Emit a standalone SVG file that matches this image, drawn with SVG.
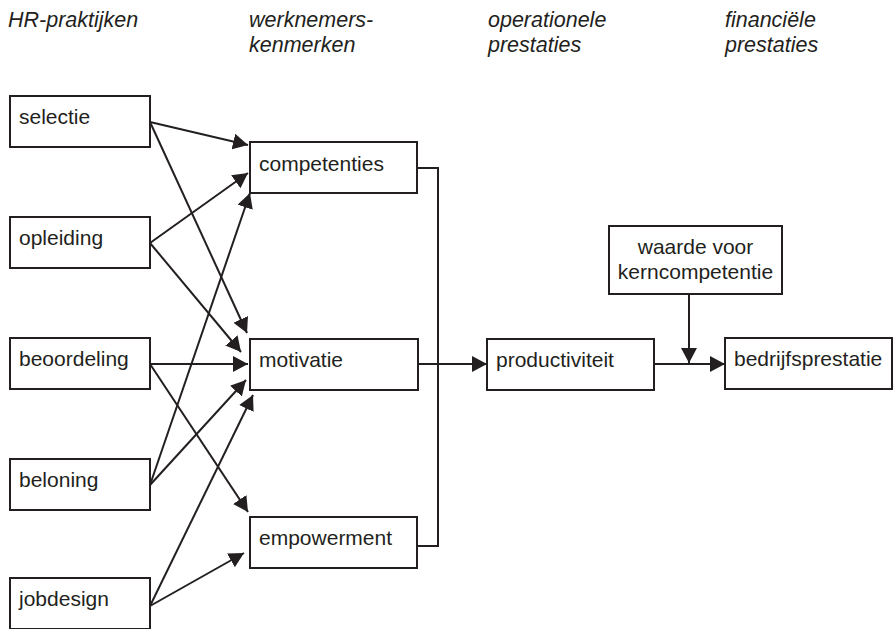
<svg xmlns="http://www.w3.org/2000/svg" width="894" height="629" viewBox="0 0 894 629">
  <style>
    .box rect { fill: #ffffff; stroke: #231f20; stroke-width: 2; }
    .lbl { font-family: "Liberation Sans", Arial, sans-serif; font-size: 21px; fill: #231f20; }
    .hdr { font-family: "Liberation Sans", Arial, sans-serif; font-size: 21.5px; font-style: italic; fill: #231f20; }
    .edge { fill: none; stroke: #231f20; stroke-width: 2; }
    .arr { marker-end: url(#head); }
  </style>
  <defs>
    <marker id="head" markerUnits="userSpaceOnUse" markerWidth="17" markerHeight="17" refX="15" refY="8" orient="auto">
      <path d="M0,0 L15,8 L0,16 z" fill="#231f20"/>
    </marker>
  </defs>
  <rect width="894" height="629" fill="#ffffff"/>

  <!-- column headings -->
  <g id="headings">
    <text class="hdr" x="8" y="26.5">HR-praktijken</text>
    <text class="hdr" x="249" y="26.5">werknemers-</text>
    <text class="hdr" x="249" y="51.5">kenmerken</text>
    <text class="hdr" x="488" y="26.5">operationele</text>
    <text class="hdr" x="488" y="51.5">prestaties</text>
    <text class="hdr" x="725" y="26.5">financiële</text>
    <text class="hdr" x="725" y="51.5">prestaties</text>
  </g>

  <!-- connectors -->
  <g id="connectors">
    <!-- HR practices to employee characteristics -->
    <line class="edge arr" x1="150" y1="122" x2="248" y2="145"/>
    <line class="edge arr" x1="150" y1="122" x2="247" y2="333"/>
    <line class="edge arr" x1="150" y1="243" x2="248" y2="173"/>
    <line class="edge arr" x1="150" y1="243" x2="241" y2="352"/>
    <line class="edge arr" x1="150" y1="364" x2="248" y2="364"/>
    <line class="edge arr" x1="150" y1="364" x2="248" y2="512"/>
    <line class="edge arr" x1="150" y1="485" x2="250" y2="193"/>
    <line class="edge arr" x1="150" y1="485" x2="246" y2="380"/>
    <line class="edge arr" x1="150" y1="606" x2="253" y2="395"/>
    <line class="edge arr" x1="150" y1="606" x2="244" y2="553"/>
    <!-- employee characteristics to productivity -->
    <polyline class="edge" points="417,168 438,168 438,546 417,546"/>
    <line class="edge arr" x1="418" y1="364" x2="487" y2="364"/>
    <!-- productivity to firm performance, moderated by core competence value -->
    <line class="edge arr" x1="654" y1="364" x2="725" y2="364"/>
    <line class="edge arr" x1="689" y1="294" x2="689" y2="363"/>
  </g>

  <!-- HR practices -->
  <g id="selectie" class="box"><rect x="10" y="96" width="140" height="51"/><text class="lbl" x="19" y="124">selectie</text></g>
  <g id="opleiding" class="box"><rect x="10" y="217" width="140" height="51"/><text class="lbl" x="19" y="245">opleiding</text></g>
  <g id="beoordeling" class="box"><rect x="10" y="338" width="140" height="51"/><text class="lbl" x="19" y="366">beoordeling</text></g>
  <g id="beloning" class="box"><rect x="10" y="459" width="140" height="51"/><text class="lbl" x="19" y="487">beloning</text></g>
  <g id="jobdesign" class="box"><rect x="10" y="578" width="140" height="51"/><text class="lbl" x="19" y="606">jobdesign</text></g>

  <!-- employee characteristics -->
  <g id="competenties" class="box"><rect x="250" y="142" width="167" height="51"/><text class="lbl" x="259" y="171">competenties</text></g>
  <g id="motivatie" class="box"><rect x="250" y="339" width="168" height="51"/><text class="lbl" x="259" y="367">motivatie</text></g>
  <g id="empowerment" class="box"><rect x="250" y="517" width="167" height="51"/><text class="lbl" x="259" y="545">empowerment</text></g>

  <!-- operational and financial performance -->
  <g id="productiviteit" class="box"><rect x="487" y="339" width="167" height="51"/><text class="lbl" x="496" y="367">productiviteit</text></g>
  <g id="waarde" class="box"><rect x="609" y="226" width="173" height="68"/>
    <text class="lbl" x="695.5" y="254" text-anchor="middle">waarde voor</text>
    <text class="lbl" x="695.5" y="279" text-anchor="middle">kerncompetentie</text>
  </g>
  <g id="bedrijfsprestatie" class="box"><rect x="725" y="338" width="167" height="51"/><text class="lbl" x="734" y="366">bedrijfsprestatie</text></g>
</svg>
